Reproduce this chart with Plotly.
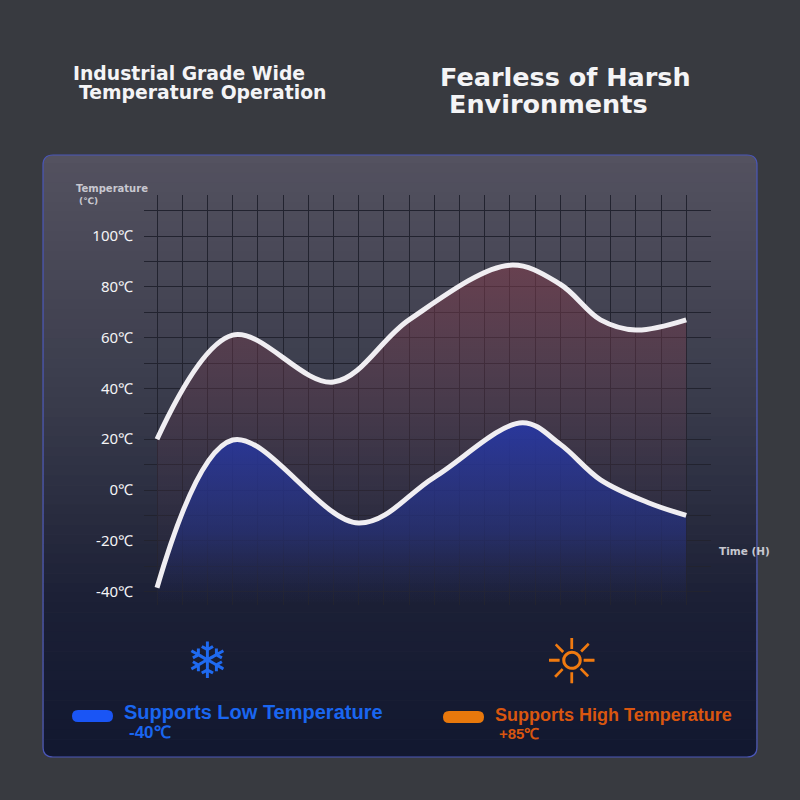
import plotly.graph_objects as go

hours_hi = [0, 3, 7, 10, 14, 16, 17.6, 19, 21]
temp_hi = [20, 61, 42.5, 67, 88.5, 81, 67, 63, 67]
hours_lo = [0, 3, 8, 11, 14.5, 16, 17.6, 19.5, 21]
temp_lo = [-38.5, 19.7, -13, 5, 26.5, 18, 4, -5, -10]
tick_vals = [-40, -20, 0, 20, 40, 60, 80, 100]
tick_text = [f"{v}℃" for v in tick_vals]

fig = go.Figure()
base_hi = [-45] * len(hours_hi)
base_lo = [-45] * len(hours_lo)
fig.add_trace(go.Scatter(x=hours_hi, y=base_hi, mode="lines", line=dict(width=0), hoverinfo="skip"))
fig.add_trace(go.Scatter(x=hours_hi, y=temp_hi, mode="lines", line=dict(color="#f0eef2", width=5, shape="spline", smoothing=1.0),
                         fill="tonexty",
                         fillgradient=dict(type="vertical", colorscale=[[0, "rgba(60,50,80,0)"], [0.45, "rgba(90,55,75,0.25)"], [1, "rgba(125,60,75,0.6)"]])))
fig.add_trace(go.Scatter(x=hours_lo, y=base_lo, mode="lines", line=dict(width=0), hoverinfo="skip"))
fig.add_trace(go.Scatter(x=hours_lo, y=temp_lo, mode="lines", line=dict(color="#f0eef2", width=5, shape="spline", smoothing=1.0),
                         fill="tonexty",
                         fillgradient=dict(type="vertical", colorscale=[[0, "rgba(30,40,110,0)"], [0.4, "rgba(35,50,140,0.55)"], [1, "rgba(40,55,160,0.95)"]])))

shapes = []
def px(x): return x / 800
def py(y): return 1 - y / 800
L, R, T, B, r = 43, 757, 155, 757, 10
path = (f"M {px(L+r)},{py(T)} L {px(R-r)},{py(T)} Q {px(R)},{py(T)} {px(R)},{py(T+r)} "
        f"L {px(R)},{py(B-r)} Q {px(R)},{py(B)} {px(R-r)},{py(B)} L {px(L+r)},{py(B)} "
        f"Q {px(L)},{py(B)} {px(L)},{py(B-r)} L {px(L)},{py(T+r)} Q {px(L)},{py(T)} {px(L+r)},{py(T)} Z")
shapes.append(dict(type="path", xref="paper", yref="paper", path=path, fillcolor="#545260", line=dict(width=0), layer="below"))
stops = [(155, (84, 82, 96)), (400, (58, 60, 76)), (600, (28, 32, 54)), (757, (18, 24, 48))]
n = 60
y0, y1 = T + 8, B - 8
for i in range(n):
    ya = y0 + (y1 - y0) * i / n
    yb = y0 + (y1 - y0) * (i + 1) / n
    ym = (ya + yb) / 2
    for j in range(len(stops) - 1):
        if stops[j][0] <= ym <= stops[j + 1][0]:
            t = (ym - stops[j][0]) / (stops[j + 1][0] - stops[j][0])
            c = [int(stops[j][1][k] + t * (stops[j + 1][1][k] - stops[j][1][k])) for k in range(3)]
    shapes.append(dict(type="rect", xref="paper", yref="paper", x0=px(L + 0.5), x1=px(R - 0.5), y0=py(yb + 0.5), y1=py(ya),
                       fillcolor=f"rgb({c[0]},{c[1]},{c[2]})", line=dict(width=0), layer="below"))
bottom_path = (f"M {px(L)},{py(B-9)} L {px(R)},{py(B-9)} L {px(R)},{py(B-r)} Q {px(R)},{py(B)} {px(R-r)},{py(B)} "
               f"L {px(L+r)},{py(B)} Q {px(L)},{py(B)} {px(L)},{py(B-r)} Z")
shapes.append(dict(type="path", xref="paper", yref="paper", path=bottom_path, fillcolor="rgb(18,24,48)", line=dict(width=0), layer="below"))
shapes.append(dict(type="path", xref="paper", yref="paper", path=path, fillcolor="rgba(0,0,0,0)", line=dict(color="#4a56b8", width=1.2), layer="below"))
shapes.append(dict(type="path", xref="paper", yref="paper", line=dict(width=0), fillcolor="#1a55f5",
                   path=f"M {px(78)},{py(710)} L {px(107)},{py(710)} Q {px(113)},{py(710)} {px(113)},{py(716)} Q {px(113)},{py(722)} {px(107)},{py(722)} L {px(78)},{py(722)} Q {px(72)},{py(722)} {px(72)},{py(716)} Q {px(72)},{py(710)} {px(78)},{py(710)} Z"))
shapes.append(dict(type="path", xref="paper", yref="paper", line=dict(width=0), fillcolor="#e8780c",
                   path=f"M {px(449)},{py(711)} L {px(478)},{py(711)} Q {px(484)},{py(711)} {px(484)},{py(717)} Q {px(484)},{py(723)} {px(478)},{py(723)} L {px(449)},{py(723)} Q {px(443)},{py(723)} {px(443)},{py(717)} Q {px(443)},{py(711)} {px(449)},{py(711)} Z"))

ann = []
def text(x, y, s, size, color, xanchor="left", bold=True, family="DejaVu Sans"):
    ann.append(dict(x=px(x), y=py(y), xref="paper", yref="paper", text=f"<b>{s}</b>" if bold else s, showarrow=False,
                    xanchor=xanchor, yanchor="middle", align="left", font=dict(size=size, color=color, family=family)))
text(71, 73, "Industrial Grade Wide", 18.8, "#f4f4f6")
text(77, 93, "Temperature Operation", 18.8, "#f4f4f6")
text(438, 77, "Fearless of Harsh", 25.5, "#f4f4f6")
text(447, 104, "Environments", 25.5, "#f4f4f6")
text(74, 189, "Temperature", 10, "#c8c8d0")
text(77, 201, "(℃)", 9, "#c8c8d0")
text(717, 551, "Time (H)", 10.5, "#c8c8d0")
text(207, 661, "❄", 50, "#1f6af0", xanchor="center", bold=False)
text(572, 661, "☼", 62, "#f07a10", xanchor="center", bold=False)
text(122, 712, "Supports Low Temperature", 20, "#1a66f0", family="Liberation Sans")
text(127, 732, "-40℃", 17, "#1a66f0", family="Liberation Sans")
text(493, 715, "Supports High Temperature", 18, "#d9560f", family="Liberation Sans")
text(497, 733, "+85℃", 15, "#d9560f", family="Liberation Sans")

grid_c = "#22232f"
fig.update_layout(
    width=800, height=800, margin=dict(l=0, r=0, t=0, b=0),
    paper_bgcolor="#383a40", plot_bgcolor="rgba(0,0,0,0)", showlegend=False,
    shapes=shapes, annotations=ann,
    xaxis=dict(domain=[144 / 800, 711 / 800], range=[(144 - 157) / 25.2, (711 - 157) / 25.2], dtick=1, tick0=0,
               showgrid=True, gridcolor=grid_c, gridwidth=1, showticklabels=False, zeroline=False, showline=False),
    yaxis=dict(domain=[1 - 605 / 800, 1 - 195 / 800], range=[(490 - 605) / 2.54, (490 - 195) / 2.54],
               tickvals=tick_vals, ticktext=tick_text, showgrid=True, gridcolor=grid_c, gridwidth=1,
               minor=dict(dtick=10, tick0=0, showgrid=True, gridcolor=grid_c, gridwidth=1),
               zeroline=False, showline=False, ticklabelstandoff=10,
               tickfont=dict(size=15, color="#f4f4f6", family="Noto Sans")),
)
fig.write_html("out.html", config={"displayModeBar": False},
               post_script="document.body.style.margin='0';document.body.style.background='#383a40';")
